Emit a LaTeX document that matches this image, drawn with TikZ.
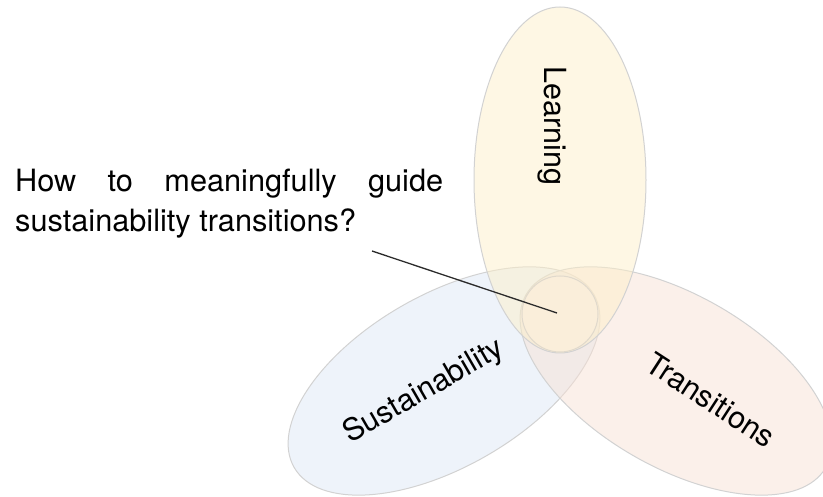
\documentclass[tikz,border=0pt]{standalone}
\usepackage{fontspec}
\setmainfont{TeX Gyre Heros}
\definecolor{lfill}{HTML}{FDEFC9}
\definecolor{sfill}{HTML}{DDE7F5}
\definecolor{tfill}{HTML}{F7E1D5}
\definecolor{cfill}{HTML}{FAEEDA}
\definecolor{edgegray}{HTML}{D2D2D2}
\definecolor{ringgray}{HTML}{E0D9CC}
\definecolor{pointer}{HTML}{2B2B2B}
\begin{document}
\begin{tikzpicture}[x=1pt,y=1pt,
  blob/.style={draw=edgegray, line width=1pt, fill opacity=0.5},
  lbl/.style={font=\fontsize{30.5}{36}\selectfont, inner sep=0pt},
  qtext/.style={font=\fontsize{30.7}{40}\selectfont, inner sep=0pt},
  ptr/.style={draw=pointer, line width=1.3pt}
]
\useasboundingbox (0,0) rectangle (823,497);
\clip (0,0) rectangle (823,497);
\coordinate (O) at (560,183);
\coordinate (Lc) at (560,317);
\coordinate (Sc) at (444,116);
\coordinate (Tc) at (676,116);
\path[blob, fill=sfill, rotate around={30:(444,116)}] (444,116) ellipse [x radius=173, y radius=86];
\path[blob, fill=tfill, rotate around={-30:(676,116)}] (676,116) ellipse [x radius=173, y radius=86];
\path[blob, fill=lfill] (Lc) ellipse [x radius=86, y radius=173];
\path[draw=ringgray, line width=1pt, fill=cfill] (O) circle [radius=38];
\node[lbl, rotate=-90] (learn) at (552,371) {Learning};
\node[lbl, rotate=30] (sus) at (424,105) {Sustainability};
\node[lbl, rotate=-33] (trans) at (711,97) {Transitions};
\node[qtext, anchor=base west] (q1) at (15,305) {\makebox[428pt][s]{How to meaningfully guide}};
\node[qtext, anchor=base west] (q2) at (15,265) {sustainability transitions?};
\coordinate (qa) at (372,246);
\coordinate (qb) at (557,184);
\draw[ptr] (qa) -- (qb);
\end{tikzpicture}
\end{document}
